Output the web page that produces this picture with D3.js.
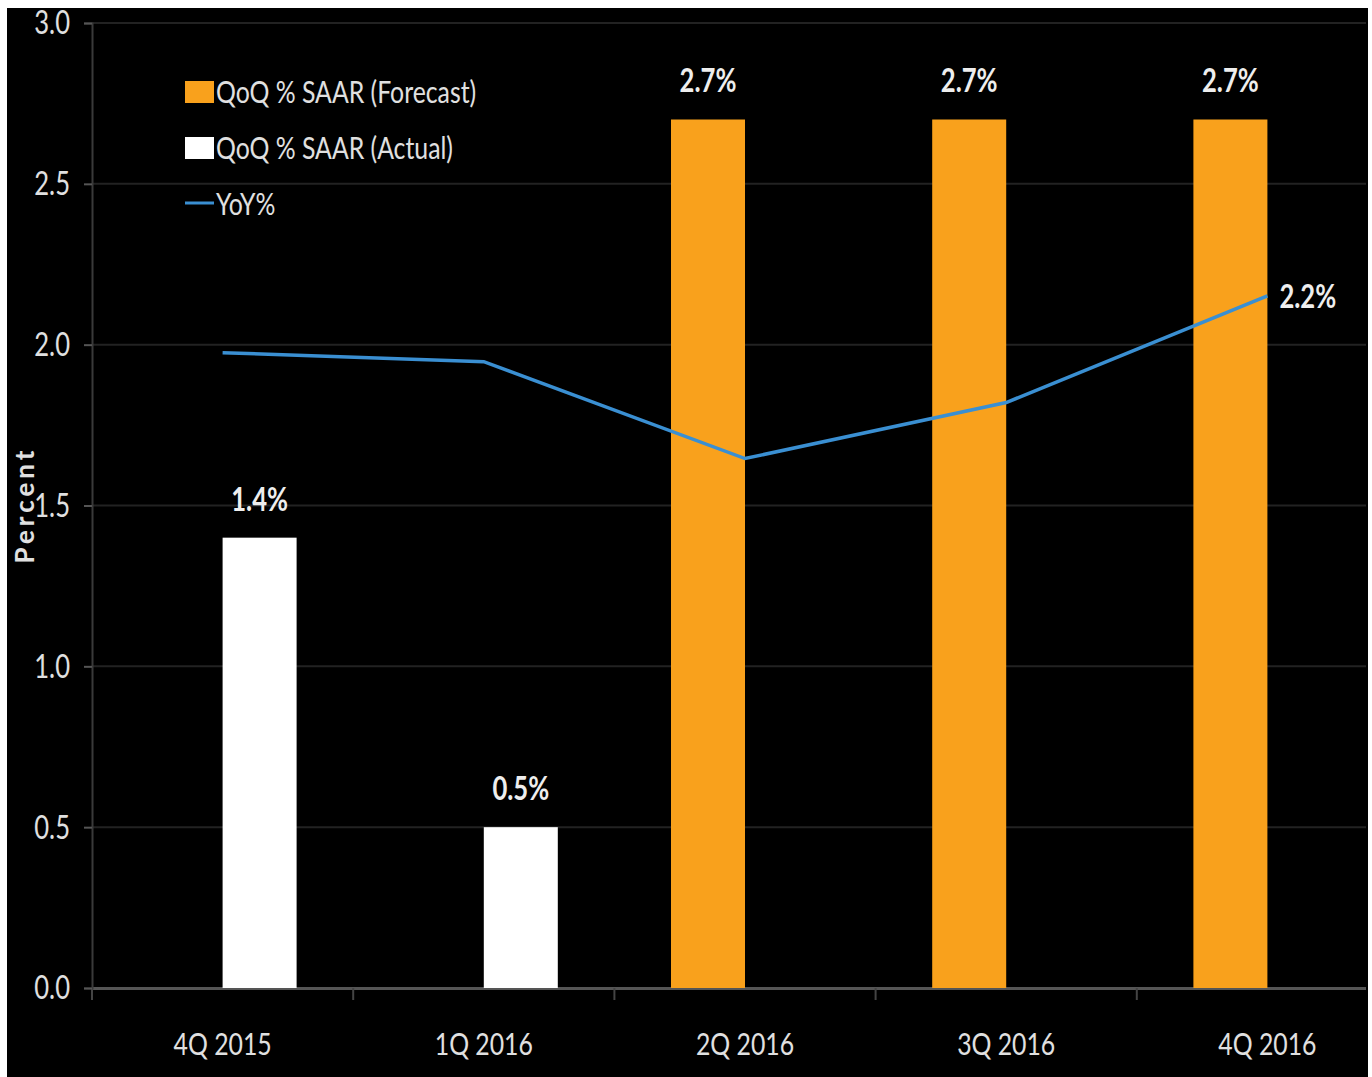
<!DOCTYPE html>
<html>
<head>
<meta charset="utf-8">
<script src="https://cdn.jsdelivr.net/npm/d3@7"></script>
<style>
  body { margin: 0; background: #fff; }
  text { font-family: Lato, "DejaVu Sans", sans-serif; }
</style>
</head>
<body>
<svg id="Viz" width="1372" height="1077"></svg>
<script>
var quarters = ["4Q 2015", "1Q 2016", "2Q 2016", "3Q 2016", "4Q 2016"];
var forecast = [null, null, 2.7, 2.7, 2.7];
var actual = [1.4, 0.5, null, null, null];
var yoy = [1.975, 1.947, 1.646, 1.82, 2.152];
var yTicks = [0, 0.5, 1.0, 1.5, 2.0, 2.5, 3.0];
var seriesNames = ["QoQ % SAAR (Forecast)", "QoQ % SAAR (Actual)", "YoY%"];

var svg = d3.select("#Viz"),
    width = +svg.attr("width"),
    height = +svg.attr("height");

var orange = "#f9a11c", blue = "#3a8fd2", grey = "#e0e0e0";

// squeeze text horizontally around its anchor x (the original font is a narrow one)
function narrow(sel, s) {
  s = s || 0.8;
  sel.each(function() {
    var t = d3.select(this), ax = +t.attr("x") || 0;
    t.attr("transform", "translate(" + ax * (1 - s) + ",0) scale(" + s + ",1)");
  });
}

// black panel, thin white frame top/left/right
svg.append("rect").attr("x", 7).attr("y", 8).attr("width", 1361).attr("height", height - 8).attr("fill", "#000");

var x = d3.scaleBand().domain(quarters).range([92, 1398]).padding(0);
var y = d3.scaleLinear().domain([0, 3]).range([988, 23]);
var bw = 74;

svg.append("clipPath").attr("id", "clip").append("rect")
  .attr("x", 7).attr("y", 8).attr("width", 1359).attr("height", height);
var g = svg.append("g").attr("clip-path", "url(#clip)");

// gridlines
g.append("g").selectAll("line").data(yTicks.slice(1)).enter().append("line")
  .attr("x1", 92).attr("x2", 1366)
  .attr("y1", function(d) { return y(d); }).attr("y2", function(d) { return y(d); })
  .attr("stroke", "#222").attr("stroke-width", 2);

// y axis
var yAxis = svg.append("g").attr("transform", "translate(92,0)")
  .call(d3.axisLeft(y).tickValues(yTicks).tickFormat(d3.format(".1f")).tickSize(8).tickPadding(14));
yAxis.select(".domain").attr("stroke", "#3a3a3a").attr("stroke-width", 2);
yAxis.selectAll(".tick line").attr("stroke", "#555").attr("stroke-width", 2);
yAxis.selectAll(".tick text").attr("fill", grey).attr("font-size", 32).attr("dy", "0.34em").call(narrow);

// x axis
var xAxis = g.append("g").attr("transform", "translate(0," + y(0) + ")")
  .call(d3.axisBottom(x).tickSize(0).tickPadding(45));
xAxis.select(".domain").attr("stroke", "#555").attr("stroke-width", 3);
xAxis.selectAll(".tick text").attr("fill", grey).attr("font-size", 31).call(narrow);
g.append("g").selectAll("line").data(quarters).enter().append("line")
  .attr("x1", function(d) { return x(d); }).attr("x2", function(d) { return x(d); })
  .attr("y1", y(0)).attr("y2", y(0) + 12)
  .attr("stroke", "#444").attr("stroke-width", 2);

// bars
g.append("g").selectAll("rect").data(quarters.filter(function(d, i) { return forecast[i] != null; }))
  .enter().append("rect")
  .attr("x", function(d) { return x(d) + x.bandwidth() / 2 - bw; })
  .attr("width", bw)
  .attr("y", function(d) { return y(forecast[quarters.indexOf(d)]); })
  .attr("height", function(d) { return y(0) - y(forecast[quarters.indexOf(d)]); })
  .attr("fill", orange);

g.append("g").selectAll("rect").data(quarters.filter(function(d, i) { return actual[i] != null; }))
  .enter().append("rect")
  .attr("x", function(d) { return x(d) + x.bandwidth() / 2; })
  .attr("width", bw)
  .attr("y", function(d) { return y(actual[quarters.indexOf(d)]); })
  .attr("height", function(d) { return y(0) - y(actual[quarters.indexOf(d)]); })
  .attr("fill", "#fff");

// bar labels
quarters.forEach(function(q, i) {
  var v = forecast[i] != null ? forecast[i] : actual[i];
  var cx = forecast[i] != null ? x(q) + x.bandwidth() / 2 - bw / 2 : x(q) + x.bandwidth() / 2 + bw / 2;
  g.append("text").attr("x", cx).attr("y", y(v) - 27)
    .attr("text-anchor", "middle").attr("fill", "#eee")
    .attr("font-size", 32).attr("font-weight", "bold")
    .text(d3.format(".1f")(v) + "%").call(narrow);
});

// yoy line
var line = d3.line()
  .x(function(d, i) { return x(quarters[i]) + x.bandwidth() / 2; })
  .y(function(d) { return y(d); });
g.append("path").datum(yoy).attr("d", line)
  .attr("fill", "none").attr("stroke", blue).attr("stroke-width", 3.5);
g.append("text")
  .attr("x", x(quarters[4]) + x.bandwidth() / 2 + 12)
  .attr("y", y(yoy[4]) + 12)
  .attr("fill", "#eee").attr("font-size", 32).attr("font-weight", "bold")
  .text(d3.format(".1f")(yoy[4]) + "%").call(narrow);

// y label
svg.append("text")
  .attr("transform", "translate(34,505) rotate(-90)")
  .attr("text-anchor", "middle").attr("fill", grey)
  .attr("font-family", "DejaVu Sans")
  .attr("font-size", 26).attr("font-weight", "bold").attr("letter-spacing", 4)
  .text("Percent");

// legend
var legend = svg.append("g").attr("transform", "translate(185,0)");
legend.append("rect").attr("x", 0).attr("y", 81).attr("width", 29).attr("height", 22).attr("fill", orange);
legend.append("rect").attr("x", 0).attr("y", 137).attr("width", 29).attr("height", 22).attr("fill", "#fff");
legend.append("line").attr("x1", 0).attr("x2", 29).attr("y1", 203).attr("y2", 203).attr("stroke", blue).attr("stroke-width", 3);
[92, 148, 204].forEach(function(yy, i) {
  legend.append("text").attr("x", 31).attr("y", yy).attr("dy", "0.35em")
    .attr("fill", grey).attr("font-size", 31).text(seriesNames[i]).call(narrow);
});
</script>
</body>
</html>
